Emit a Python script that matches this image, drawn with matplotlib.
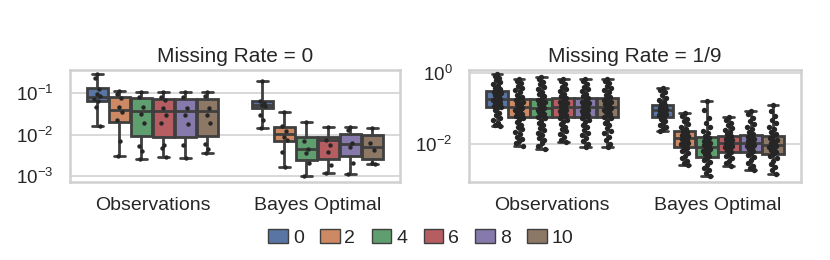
import numpy as np
import matplotlib
matplotlib.use('Agg')
import matplotlib.pyplot as plt
from matplotlib.patches import Patch
from matplotlib.ticker import NullLocator
import seaborn as sns

sns.set_theme(style="whitegrid")
plt.rcParams['font.family'] = ['Liberation Sans', 'DejaVu Sans']
plt.rcParams['mathtext.default'] = 'regular'

groups = ['Observations', 'Bayes Optimal']
hues = ['0', '2', '4', '6', '8', '10']
titles = ['Missing Rate = 0', 'Missing Rate = 1/9']

# box summaries per hue: (whisker low, q1, median, q3, whisker high)
mr0_obs_box = [(0.016, 0.065, 0.083, 0.135, 0.29),
               (0.0031, 0.0198, 0.039, 0.083, 0.116),
               (0.0025, 0.0092, 0.037, 0.076, 0.106),
               (0.0028, 0.0089, 0.037, 0.071, 0.106),
               (0.0027, 0.0089, 0.037, 0.071, 0.106),
               (0.0035, 0.0092, 0.037, 0.073, 0.106)]
mr0_bayes_box = [(0.0146, 0.043, 0.053, 0.066, 0.199),
                 (0.00166, 0.0069, 0.0103, 0.0155, 0.035),
                 (0.001, 0.0024, 0.0046, 0.0089, 0.0198),
                 (0.0012, 0.0025, 0.0074, 0.0085, 0.0149),
                 (0.0011, 0.0031, 0.0058, 0.0101, 0.0155),
                 (0.0019, 0.0026, 0.0049, 0.0097, 0.0146)]
mr19_obs_box = [(0.032, 0.107, 0.18, 0.31, 0.92),
                (0.0089, 0.056, 0.107, 0.18, 0.67),
                (0.0074, 0.056, 0.105, 0.18, 0.78),
                (0.0115, 0.058, 0.107, 0.19, 0.67),
                (0.0081, 0.056, 0.107, 0.19, 0.67),
                (0.0081, 0.056, 0.107, 0.2, 0.67)]
mr19_bayes_box = [(0.024, 0.056, 0.09, 0.127, 0.38),
                  (0.0026, 0.0085, 0.0145, 0.023, 0.073),
                  (0.0013, 0.0044, 0.0085, 0.0155, 0.164),
                  (0.0024, 0.0059, 0.0105, 0.0169, 0.059),
                  (0.0019, 0.0061, 0.0105, 0.018, 0.085),
                  (0.0015, 0.0055, 0.0096, 0.0169, 0.122)]

# individual runs (strip points)
mr0_obs_pts = [[0.29, 0.23, 0.13, 0.095, 0.085, 0.072, 0.065, 0.046, 0.016],
               [0.116, 0.095, 0.077, 0.046, 0.036, 0.022, 0.0068, 0.0031],
               [0.106, 0.08, 0.046, 0.031, 0.019, 0.0052, 0.004, 0.0025],
               [0.106, 0.08, 0.07, 0.045, 0.029, 0.019, 0.0055, 0.0048, 0.0028],
               [0.106, 0.08, 0.045, 0.03, 0.018, 0.0055, 0.0027],
               [0.106, 0.085, 0.045, 0.03, 0.019, 0.0058, 0.0045, 0.0035]]
mr0_bayes_pts = [[0.2, 0.064, 0.058, 0.053, 0.05, 0.03, 0.023, 0.0146],
                 [0.035, 0.016, 0.012, 0.0085, 0.0072, 0.0038, 0.00166],
                 [0.0198, 0.0069, 0.0045, 0.0035, 0.0021, 0.001],
                 [0.0149, 0.0074, 0.0056, 0.0037, 0.0018, 0.0012],
                 [0.0155, 0.0129, 0.0061, 0.005, 0.002, 0.0011],
                 [0.0146, 0.0064, 0.0042, 0.0021, 0.0019]]
mr19_obs_pts = [
    [0.92, 0.82, 0.72, 0.63, 0.55, 0.48, 0.42, 0.38, 0.34, 0.31, 0.29, 0.27, 0.25,
     0.23, 0.21, 0.195, 0.18, 0.17, 0.16, 0.15, 0.14, 0.13, 0.12, 0.11, 0.1, 0.088,
     0.075, 0.064, 0.055, 0.047, 0.04, 0.035, 0.032],
    [0.67, 0.58, 0.5, 0.43, 0.37, 0.32, 0.28, 0.24, 0.21, 0.19, 0.17, 0.155, 0.14,
     0.13, 0.12, 0.11, 0.1, 0.093, 0.086, 0.079, 0.072, 0.066, 0.06, 0.054, 0.047,
     0.041, 0.035, 0.03, 0.026, 0.022, 0.019, 0.016, 0.014, 0.012, 0.0105, 0.0089],
    [0.78, 0.66, 0.56, 0.47, 0.4, 0.34, 0.29, 0.25, 0.22, 0.19, 0.17, 0.155, 0.14,
     0.13, 0.12, 0.11, 0.1, 0.092, 0.085, 0.078, 0.071, 0.065, 0.059, 0.053, 0.046,
     0.04, 0.034, 0.029, 0.025, 0.021, 0.018, 0.015, 0.013, 0.011, 0.009, 0.0074],
    [0.67, 0.57, 0.48, 0.41, 0.35, 0.3, 0.26, 0.22, 0.19, 0.17, 0.155, 0.14, 0.13,
     0.12, 0.11, 0.1, 0.093, 0.086, 0.079, 0.072, 0.066, 0.06, 0.054, 0.048, 0.042,
     0.036, 0.031, 0.027, 0.023, 0.019, 0.016, 0.0135, 0.0115],
    [0.67, 0.57, 0.48, 0.41, 0.35, 0.3, 0.26, 0.22, 0.19, 0.17, 0.155, 0.14, 0.13,
     0.12, 0.11, 0.1, 0.093, 0.086, 0.079, 0.072, 0.066, 0.06, 0.054, 0.047, 0.041,
     0.035, 0.03, 0.025, 0.021, 0.018, 0.015, 0.0125, 0.01, 0.0081],
    [0.67, 0.58, 0.5, 0.43, 0.37, 0.32, 0.28, 0.24, 0.21, 0.19, 0.17, 0.155, 0.14,
     0.13, 0.12, 0.11, 0.1, 0.092, 0.085, 0.078, 0.071, 0.065, 0.059, 0.053, 0.046,
     0.04, 0.034, 0.029, 0.024, 0.02, 0.016, 0.013, 0.01, 0.0081]]
mr19_bayes_pts = [
    [0.38, 0.33, 0.28, 0.24, 0.2, 0.17, 0.15, 0.135, 0.125, 0.115, 0.105, 0.098,
     0.092, 0.087, 0.082, 0.076, 0.07, 0.064, 0.058, 0.052, 0.046, 0.04, 0.035,
     0.031, 0.027, 0.024],
    [0.073, 0.062, 0.052, 0.044, 0.037, 0.031, 0.027, 0.024, 0.022, 0.02, 0.018,
     0.0165, 0.015, 0.014, 0.013, 0.012, 0.011, 0.0102, 0.0095, 0.0088, 0.008,
     0.0072, 0.0064, 0.0056, 0.0048, 0.0041, 0.0035, 0.003, 0.0026],
    [0.164, 0.09, 0.055, 0.04, 0.03, 0.024, 0.02, 0.017, 0.015, 0.0135, 0.012,
     0.011, 0.01, 0.0093, 0.0086, 0.0079, 0.0072, 0.0065, 0.0059, 0.0053, 0.0047,
     0.0042, 0.0036, 0.0031, 0.0026, 0.0022, 0.0019, 0.0016, 0.0013],
    [0.059, 0.048, 0.04, 0.034, 0.029, 0.025, 0.022, 0.019, 0.017, 0.0155, 0.014,
     0.013, 0.012, 0.011, 0.0102, 0.0095, 0.0088, 0.0081, 0.0074, 0.0067, 0.006,
     0.0053, 0.0046, 0.004, 0.0034, 0.0029, 0.0024],
    [0.085, 0.068, 0.055, 0.045, 0.037, 0.031, 0.026, 0.022, 0.019, 0.017, 0.0155,
     0.014, 0.013, 0.012, 0.011, 0.0102, 0.0095, 0.0088, 0.008, 0.0072, 0.0064,
     0.0057, 0.005, 0.0043, 0.0036, 0.003, 0.0025, 0.0022, 0.0019],
    [0.122, 0.085, 0.062, 0.048, 0.038, 0.031, 0.026, 0.022, 0.019, 0.0165, 0.015,
     0.0135, 0.012, 0.011, 0.0102, 0.0095, 0.0088, 0.0081, 0.0074, 0.0067, 0.006,
     0.0053, 0.0046, 0.004, 0.0034, 0.0028, 0.0023, 0.0019, 0.0015]]

panels = [
    dict(boxes=[mr0_obs_box, mr0_bayes_box], pts=[mr0_obs_pts, mr0_bayes_pts],
         ylim=(7.1e-4, 0.368), yticks=[1e-3, 1e-2, 1e-1], msize=10, jit=0.02),
    dict(boxes=[mr19_obs_box, mr19_bayes_box], pts=[mr19_obs_pts, mr19_bayes_pts],
         ylim=(8.8e-4, 1.19), yticks=[1e-2, 1e0], msize=15, jit=0.024),
]

colors = [sns.desaturate(c, 0.75) for c in sns.color_palette('deep', 6)]
edge = '#3f3f3f'
width = 0.8 / len(hues)
jitter = np.array([0, -0.6, 0.5, -0.2, 0.8, -0.9, 0.3, -0.45, 0.65, 0.1, -0.75, 0.9])

fig = plt.figure(figsize=(8.3, 2.6), dpi=100)
axes = [fig.add_axes([0.0843, 0.30, 0.3976, 0.431]),
        fig.add_axes([0.5655, 0.30, 0.399, 0.431])]

for ax, panel, title in zip(axes, panels, titles):
    ax.set_yscale('log')
    for gi, (gbox, gpts) in enumerate(zip(panel['boxes'], panel['pts'])):
        for hi in range(len(hues)):
            lo, q1, med, q3, hi_w = gbox[hi]
            pos = gi + (hi - (len(hues) - 1) / 2) * width
            stats = [dict(whislo=lo, q1=q1, med=med, q3=q3, whishi=hi_w, fliers=[])]
            ax.bxp(stats, positions=[pos], widths=width * 0.98, patch_artist=True,
                   showfliers=False, manage_ticks=False,
                   boxprops=dict(facecolor=colors[hi], edgecolor=edge, linewidth=2.0),
                   whiskerprops=dict(color=edge, linewidth=2.0),
                   capprops=dict(color=edge, linewidth=2.0),
                   medianprops=dict(color=edge, linewidth=2.0))
            vals = np.array(gpts[hi])
            offs = np.resize(jitter, len(vals)) * panel['jit']
            ax.scatter(pos + offs, vals, s=panel['msize'], color='#262626', zorder=5,
                       linewidths=0)
    ax.set_xlim(-0.5, 1.5)
    ax.set_ylim(*panel['ylim'])
    ax.set_yticks(panel['yticks'])
    ax.yaxis.set_minor_locator(NullLocator())
    ax.set_xticks([0, 1])
    ax.set_xticklabels(groups)
    ax.grid(True, axis='y', color='#d5d5d5', linewidth=1.3)
    ax.grid(False, axis='x')
    ax.set_axisbelow(True)
    for s in ax.spines.values():
        s.set_color('#d0d0d0')
        s.set_linewidth(1.8)
    ax.tick_params(axis='x', labelsize=14, pad=11, length=0, labelcolor='#262626')
    ax.tick_params(axis='y', labelsize=13.5, pad=12, length=0, labelcolor='#262626')
    ax.set_title(title, fontsize=15, color='#262626', pad=6)

handles = [Patch(facecolor=c, edgecolor=edge, linewidth=1.0) for c in colors]
fig.legend(handles, hues, loc='center', bbox_to_anchor=(0.507, 0.085), ncol=6,
           frameon=False, fontsize=14, handlelength=1.0, handleheight=0.72,
           handletextpad=0.25, columnspacing=0.85, labelcolor='#262626')

fig.savefig('out.png', dpi=100)
